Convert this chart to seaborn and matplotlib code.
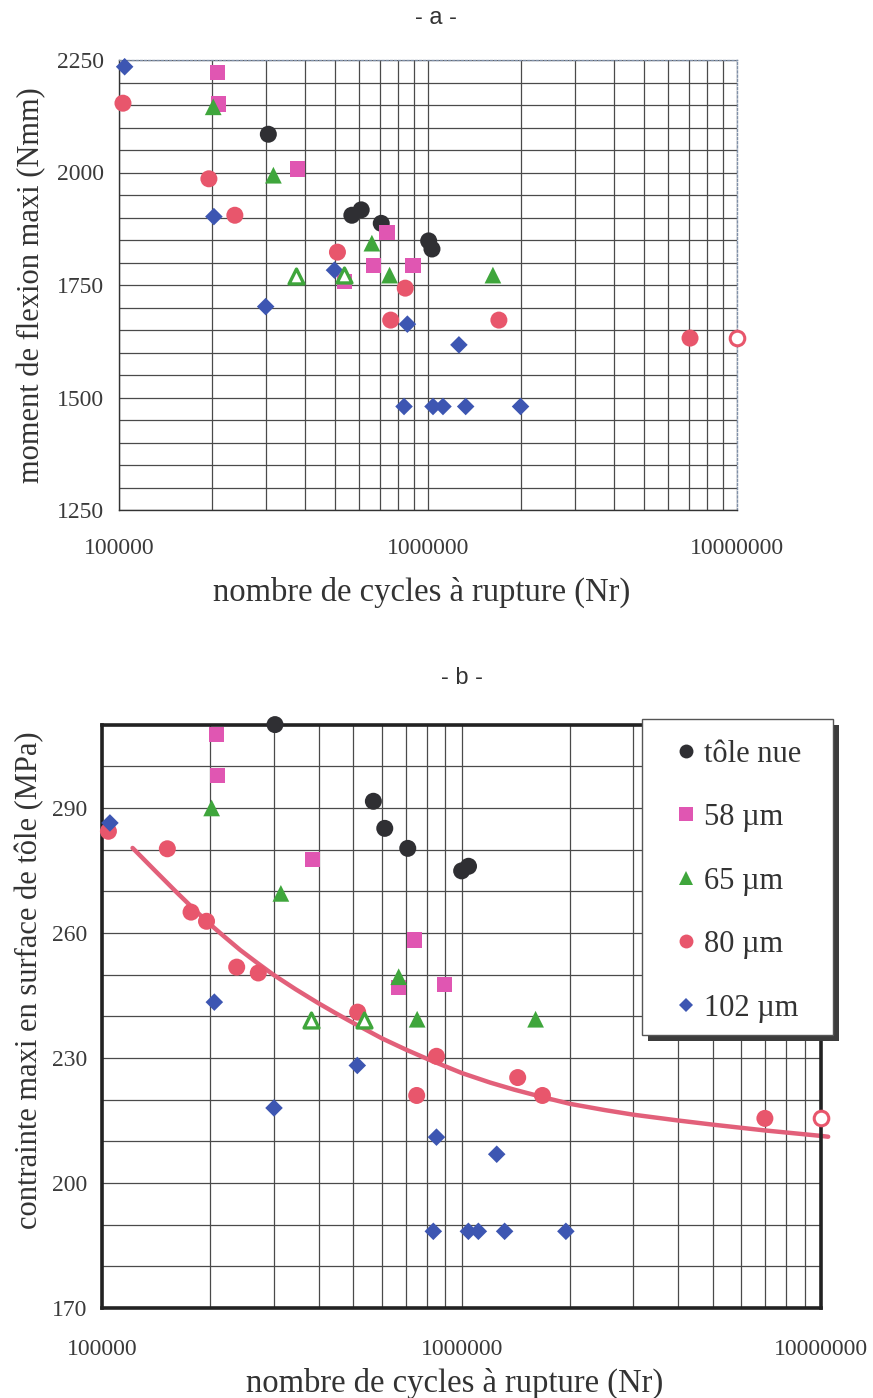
import numpy as np
import pandas as pd
import matplotlib
matplotlib.use("Agg")
import matplotlib.pyplot as plt
import seaborn as sns
from matplotlib.lines import Line2D
from matplotlib.patches import Rectangle
from matplotlib.ticker import FixedLocator, FixedFormatter, LogLocator, NullFormatter, MultipleLocator

# ---------------- data : chart a (moment de flexion, Nmm) ----------------
a_nue_N = [304300, 567000, 607900, 705900, 1005000, 1030000]
a_nue_M = [2085, 1905, 1917, 1887, 1848, 1830]
a_58_N = [207900, 209400, 378800, 736300, 666500, 894000, 536600]
a_58_M = [2223, 2152, 2008, 1866, 1793, 1793, 1757]
a_65_N = [201800, 316000, 658200, 751000, 1622000]
a_65_M = [2146, 1994, 1843, 1772, 1772]
a_65_open_N = [373200, 536600]
a_65_open_M = [1770, 1772]
a_80_N = [103000, 195400, 237100, 509300, 844100, 757300, 1696000, 7047000]
a_80_M = [2154, 1986, 1905, 1823, 1743, 1672, 1672, 1632]
a_80_open_N = [10000000]
a_80_open_M = [1632]
a_102_N = [104300, 202800, 298300, 498100, 857500, 1259000,
           836400, 1038000, 1118000, 1324000, 1993000]
a_102_M = [2235, 1902, 1702, 1783, 1663, 1617, 1480, 1480, 1480, 1480, 1480]

# ---------------- data : chart b (contrainte, MPa) ----------------
b_nue_N = [302400, 568000, 611000, 708000, 1000000, 1045000]
b_nue_S = [310.0, 291.6, 285.1, 280.3, 274.9, 276.0]
b_58_N = [208000, 209000, 384000, 740000, 668000, 896000]
b_58_S = [307.6, 297.8, 277.6, 258.3, 247.0, 247.7]
b_65_N = [201500, 314000, 668000, 752000, 1606000]
b_65_S = [290.0, 269.5, 249.5, 239.3, 239.3]
b_65_open_N = [380800, 535900]
b_65_open_S = [239.2, 239.2]
b_80_N = [104000, 151700, 176600, 195000, 236600, 271700,
          513600, 851000, 749700, 1432000, 1678000, 6980000]
b_80_S = [284.4, 280.2, 265.0, 262.8, 251.8, 250.4,
          241.0, 230.4, 221.0, 225.3, 221.0, 215.5]
b_80_open_N = [10000000]
b_80_open_S = [215.5]
b_102_N = [105000, 205000, 300500, 512400, 851000, 1252000,
           834000, 1044000, 1113000, 1317000, 1950000]
b_102_S = [286.4, 243.4, 218.0, 228.2, 211.0, 206.9,
           188.4, 188.4, 188.4, 188.4, 188.4]

# trend line
fit_N = [121400, 140000, 160800, 178000, 195700, 218000, 242000, 270000,
         299000, 345000, 396500, 445000, 497000, 600000, 700000, 811000,
         1000000, 1200000, 1400000, 1700000, 2000000, 2500000, 3000000,
         4000000, 5000000, 7000000, 10000000, 10470000]
fit_S = [280.4, 275.0, 269.8, 266.1, 262.7, 259.2, 255.9, 252.8,
         250.0, 246.5, 243.3, 240.8, 238.5, 234.7, 232.0, 229.6,
         226.4, 224.1, 222.4, 220.5, 219.0, 217.5, 216.4,
         215.0, 214.0, 212.6, 211.3, 211.1]

series_labels = ["tôle nue", "58 µm", "65 µm", "80 µm", "102 µm"]
x_ticks = [1e5, 1e6, 1e7]
x_tick_labels = ["100000", "1000000", "10000000"]
a_y_ticks = [1250, 1500, 1750, 2000, 2250]
b_y_ticks = [170, 200, 230, 260, 290]

# ---------------- style ----------------
colors = ["#2f2f33", "#e056b2", "#3fa63c", "#e8566c", "#3d56b2"]
markers = ["o", "s", "^", "o", "D"]
sizes = [150, 120, 145, 150, 80]
fit_color = "#e2607a"

sns.set_theme(style="white")
plt.rcParams['font.family'] = ['Liberation Serif', 'DejaVu Serif']
plt.rcParams['axes.unicode_minus'] = False

W, H = 873, 1398
fig = plt.figure(figsize=(W / 100, H / 100), dpi=100)
fig.patch.set_facecolor("white")

ax_a = fig.add_axes([119 / W, (H - 510) / H, 618 / W, 450 / H])
ax_b = fig.add_axes([102.3 / W, (H - 1308) / H, 718.7 / W, 583.4 / H])


def setup_axis(ax, ylim, yticks, yminor, xpad):
    ax.set_xscale("log")
    ax.set_xlim(1e5, 1e7)
    ax.set_ylim(*ylim)
    ax.xaxis.set_major_locator(FixedLocator(x_ticks))
    ax.xaxis.set_major_formatter(FixedFormatter(x_tick_labels))
    ax.xaxis.set_minor_locator(LogLocator(base=10, subs=list(range(2, 10))))
    ax.xaxis.set_minor_formatter(NullFormatter())
    ax.yaxis.set_major_locator(FixedLocator(yticks))
    ax.yaxis.set_minor_locator(MultipleLocator(yminor))
    ax.grid(True, which="both", color="#4a4a4a", lw=0.9)
    ax.set_axisbelow(True)
    ax.tick_params(axis="x", which="major", direction="inout", length=7,
                   width=1, colors="#333333", labelsize=17, pad=xpad,
                   labelcolor="#3a3a3a")
    ax.tick_params(axis="y", which="major", direction="out", length=6,
                   width=1, colors="#333333", labelsize=17, pad=5,
                   labelcolor="#3a3a3a")
    ax.tick_params(which="minor", length=0)


setup_axis(ax_a, (1250, 2250), a_y_ticks, 50, 17)
setup_axis(ax_b, (170, 310), b_y_ticks, 10, 19)

# spines
for s in ["left", "bottom"]:
    ax_a.spines[s].set_color("#333333")
    ax_a.spines[s].set_linewidth(1.0)
for s in ["top", "right"]:
    ax_a.spines[s].set_color("#8090a8")
    ax_a.spines[s].set_linewidth(1.0)
    ax_a.spines[s].set_linestyle((0, (1.5, 1.5)))
for s in ax_b.spines.values():
    s.set_color("#222222")
    s.set_linewidth(2.6)

# ---------------- points ----------------
a_sets = [(a_nue_N, a_nue_M), (a_58_N, a_58_M), (a_65_N, a_65_M),
          (a_80_N, a_80_M), (a_102_N, a_102_M)]
b_sets = [(b_nue_N, b_nue_S), (b_58_N, b_58_S), (b_65_N, b_65_S),
          (b_80_N, b_80_S), (b_102_N, b_102_S)]

for ax, sets in [(ax_a, a_sets), (ax_b, b_sets)]:
    for (xs, ys), c, m, sz in zip(sets, colors, markers, sizes):
        df = pd.DataFrame({"N": xs, "v": ys})
        sns.scatterplot(data=df, x="N", y="v", ax=ax, marker=m, color=c,
                        s=sz, edgecolor="none", linewidth=0, zorder=3,
                        clip_on=False, legend=False)

# open markers (unbroken specimens)
for ax, tN, tV, cN, cV in [(ax_a, a_65_open_N, a_65_open_M, a_80_open_N, a_80_open_M),
                           (ax_b, b_65_open_N, b_65_open_S, b_80_open_N, b_80_open_S)]:
    ax.scatter(tN, tV, marker="^", s=115, facecolors="white",
               edgecolors=colors[2], linewidths=2.4, zorder=3, clip_on=False)
    ax.scatter(cN, cV, marker="o", s=110, facecolors="white",
               edgecolors=colors[3], linewidths=2.2, zorder=3, clip_on=False)

# trend line
sns.lineplot(x=fit_N, y=fit_S, ax=ax_b, color=fit_color, lw=3.2,
             sort=False, estimator=None, legend=False, zorder=2.5)
for ln in ax_b.get_lines():
    ln.set_clip_on(False)
    ln.set_solid_capstyle("round")
    ln.set_solid_joinstyle("round")

# ---------------- labels ----------------
ax_a.set_xlabel("nombre de cycles à rupture (Nr)", fontsize=23.5, color="#333333",
                va="center")
ax_a.xaxis.set_label_coords(0.49, -0.182)
ax_a.set_ylabel("moment de flexion maxi (Nmm)", fontsize=22, color="#333333",
                va="center")
ax_a.yaxis.set_label_coords(-0.141, 0.5)

ax_b.set_xlabel("nombre de cycles à rupture (Nr)", fontsize=23.5, color="#333333",
                va="center")
ax_b.xaxis.set_label_coords(0.49, -0.1286)
ax_b.set_ylabel("contrainte maxi en surface de tôle (MPa)", fontsize=22,
                color="#333333", va="center")
ax_b.yaxis.set_label_coords(-0.1006, 0.562)

fig.text(436 / W, 1 - 18 / H, "- a -", fontsize=17, family="Liberation Sans",
         ha="center", va="center", color="#333333")
fig.text(462 / W, 1 - 678 / H, "- b -", fontsize=17, family="Liberation Sans",
         ha="center", va="center", color="#333333")

# ---------------- legend (chart b) ----------------
bx0, bx1, by0, by1 = 641.7, 833.3, 719.0, 1035.0
shadow = Rectangle(((bx0 + 6) / W, (H - by1 - 6) / H), (bx1 - bx0) / W,
                   (by1 - by0) / H, transform=fig.transFigure,
                   facecolor="#3c3c3c", edgecolor="none", zorder=4.4,
                   clip_on=False)
box = Rectangle((bx0 / W, (H - by1) / H), (bx1 - bx0) / W, (by1 - by0) / H,
                transform=fig.transFigure, facecolor="white",
                edgecolor="#555555", lw=1.0, zorder=4.5, clip_on=False)
ax_b.add_artist(shadow)
ax_b.add_artist(box)

handles = [Line2D([], [], ls="none", marker=m, color=c, markersize=ms,
                  markeredgewidth=0)
           for m, c, ms in zip(markers, colors, [10, 9.5, 10.5, 10, 7.5])]
leg = ax_b.legend(handles, series_labels, loc="upper left",
                  bbox_to_anchor=((675 - 102.3) / 718.7, (1308 - 739.5) / 583.4),
                  frameon=False, fontsize=22, handlelength=0.7,
                  handletextpad=0.25, labelspacing=1.13, borderpad=0,
                  borderaxespad=0)
for t in leg.get_texts():
    t.set_color("#333333")
leg.set_zorder(6)

fig.savefig("out.png", dpi=100, facecolor="white")
